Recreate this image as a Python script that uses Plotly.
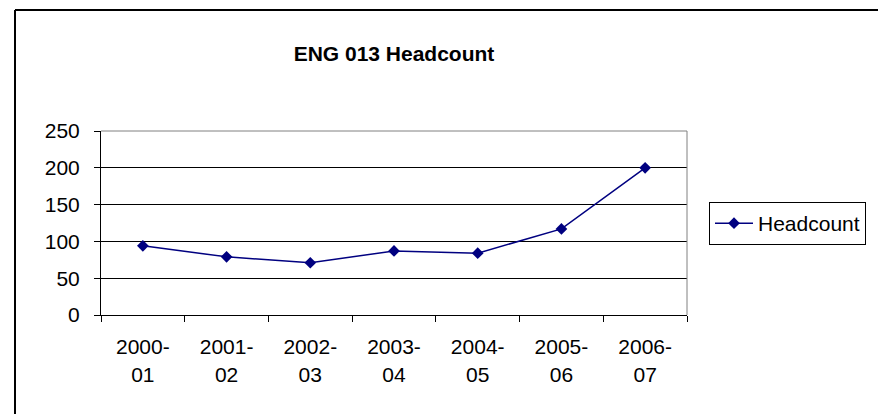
import plotly.graph_objects as go

categories = ["2000-<br>01", "2001-<br>02", "2002-<br>03", "2003-<br>04",
              "2004-<br>05", "2005-<br>06", "2006-<br>07"]
headcount = [94, 79, 71, 87, 84, 117, 200]
y_ticks = [0, 50, 100, 150, 200, 250]

FONT = "Arial, Liberation Sans, sans-serif"
W, H = 886, 414
L, R, T, B = 93, W - 679, 123, H - 307

fig = go.Figure()
fig.add_trace(go.Scatter(
    x=categories, y=headcount, name="Headcount", mode="lines+markers",
    line=dict(color="#000080", width=1.5),
    marker=dict(symbol="diamond", size=9, color="#000080"),
))

def px_x(p):
    return (p - L) / (W - L - R)

def px_y(p):
    return (H - B - p) / (H - T - B)

fig.update_layout(
    width=W, height=H,
    margin=dict(l=L, r=R, t=T, b=B),
    paper_bgcolor="white", plot_bgcolor="white",
    font=dict(family=FONT, size=21, color="black"),
    title=dict(text="<b>ENG 013 Headcount</b>", x=0.5,
               xref="paper", xanchor="center",
               y=1 - 46 / H, yanchor="middle",
               font=dict(family=FONT, size=21, color="black")),
    showlegend=True,
    legend=dict(x=px_x(701), y=px_y(194), xanchor="left", yanchor="top",
                bordercolor="black", borderwidth=1, bgcolor="white",
                font=dict(family=FONT, size=21, color="black"),
                itemwidth=38),
    xaxis=dict(type="category", tickson="boundaries", ticks="outside",
               ticklen=6, tickcolor="black", showline=True, linecolor="black",
               linewidth=1, showgrid=False, mirror=False,
               ticklabelstandoff=13, range=[-0.5, 6.5],
               tickfont=dict(family=FONT, size=21)),
    yaxis=dict(range=[0, 250], tickvals=y_ticks, ticks="outside", ticklen=6,
               tickcolor="black", showline=True, linecolor="black", linewidth=1,
               showgrid=True, gridcolor="black", gridwidth=1, zeroline=False,
               ticklabelstandoff=10, tickfont=dict(family=FONT, size=21)),
    shapes=[
        # plot-area border (top and right, gray)
        dict(type="line", xref="paper", yref="paper", x0=0, x1=1, y0=1, y1=1,
             line=dict(color="#808080", width=1)),
        dict(type="line", xref="paper", yref="paper", x0=1, x1=1, y0=0, y1=1,
             line=dict(color="#808080", width=1)),
        # chart outer border (left and top)
        dict(type="line", xref="paper", yref="paper", x0=px_x(7), x1=px_x(7),
             y0=px_y(2), y1=px_y(H + 5), line=dict(color="black", width=2)),
        dict(type="line", xref="paper", yref="paper", x0=px_x(7), x1=px_x(W + 5),
             y0=px_y(2), y1=px_y(2), line=dict(color="black", width=2)),
    ],
)

fig.write_html("out.html")
